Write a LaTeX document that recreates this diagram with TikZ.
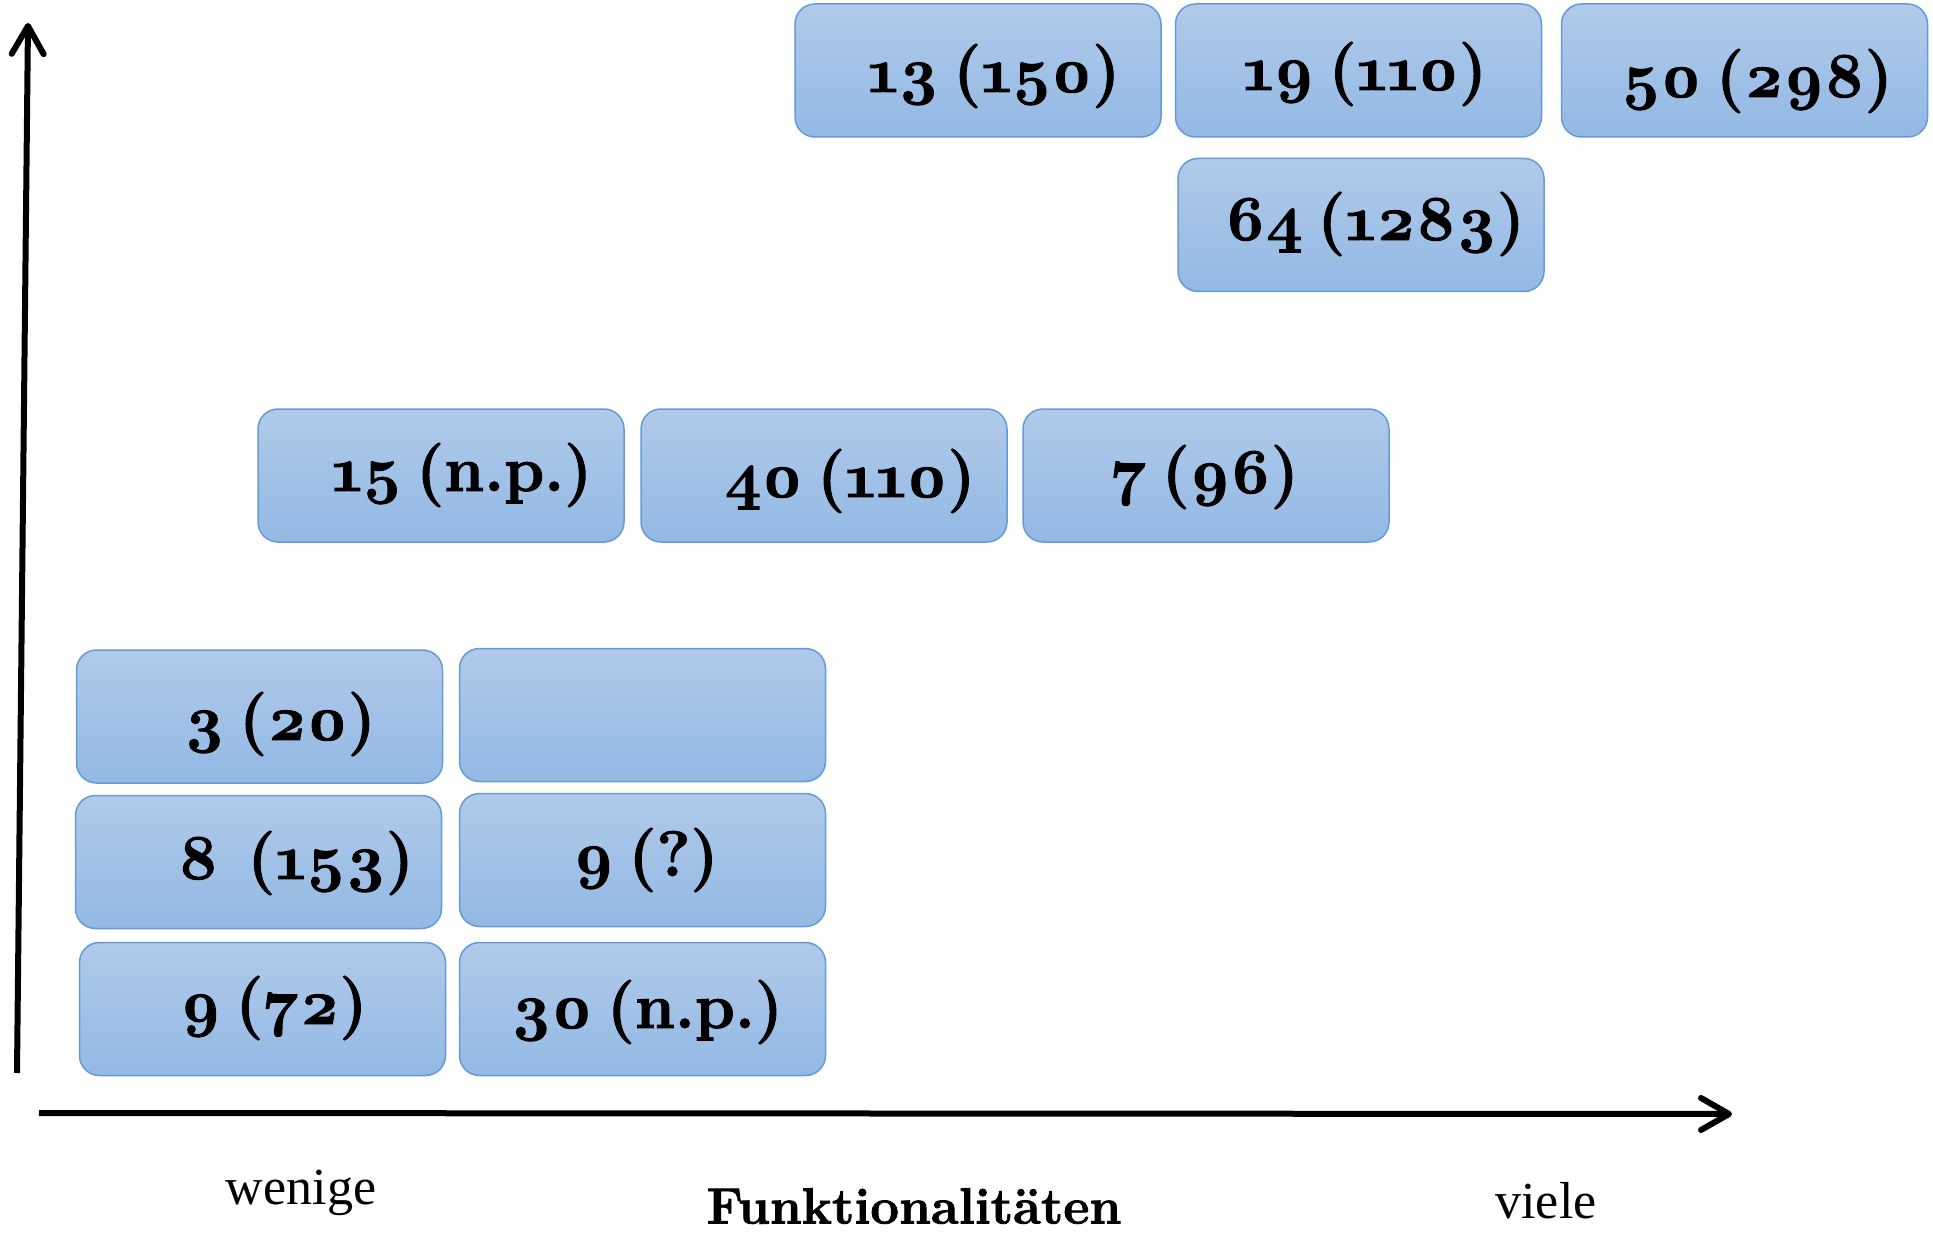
\documentclass[tikz,border=0pt]{standalone}
\usepackage{fontspec}
\setmainfont{Latin Modern Roman}[Numbers=OldStyle, BoldFeatures={FakeBold=1.6}, WordSpace=0.6]
\newfontfamily\labfont{Liberation Serif}
\usetikzlibrary{arrows.meta}
\definecolor{boxtop}{RGB}{176,202,234}
\definecolor{boxbot}{RGB}{147,185,228}
\definecolor{boxborder}{RGB}{100,155,215}
\begin{document}
\begin{tikzpicture}[x=1pt,y=-1pt,
  box/.style={draw=boxborder, line width=1.5pt, rounded corners=20pt, top color=boxtop, bottom color=boxbot, minimum width=366pt, minimum height=133pt, inner sep=0pt},
  lbl/.style={font=\fontsize{64}{67}\selectfont\bfseries, inner sep=0pt},
  axlbl/.style={font=\labfont\fontsize{52}{56}\selectfont, inner sep=0pt},
  axis/.style={line width=6pt, -{Straight Barb[length=28pt,width=32pt,line cap=round,line join=round]}}]
\useasboundingbox (0,0) rectangle (1933,1233);
% boxes
\node[box] (b1) at (978,70.5) {};
\node[box] (b2) at (1358.5,70.5) {};
\node[box] (b3) at (1744.5,70.5) {};
\node[box] (b4) at (1361,225) {};
\node[box] (m1) at (441,475.5) {};
\node[box] (m2) at (824,475.5) {};
\node[box] (m3) at (1206,475.5) {};
\node[box] (r1) at (259.5,716.5) {};
\node[box] (r2) at (642.5,715) {};
\node[box] (r3) at (258.5,862) {};
\node[box] (r4) at (642.5,860) {};
\node[box] (r5) at (262.5,1009) {};
\node[box] (r6) at (642.5,1009) {};
% texts
\node[lbl] (t1) at (994,76) {13 (150)};
\node[lbl] (t2) at (1365,74) {19 (110)};
\node[lbl] (t3) at (1757,81) {50 (298)};
\node[lbl] (t4) at (1375,224) {64 (1283)};
\node[lbl] (t5) at (462,475) {15 (n.p.)};
\node[lbl] (t6) at (850,481) {40 (110)};
\node[lbl] (t7) at (1205,477) {7 (96)};
\node[lbl] (t8) at (280,724) {3 (20)};
\node[lbl] (t9) at (296,863) {8\ \ (153)};
\node[lbl] (t10) at (646,860) {9 (?)};
\node[lbl] (t11) at (274,1008) {9 (72)};
\node[lbl] (t12) at (647,1012) {30 (n.p.)};
% axes
\coordinate (yo) at (17,1073);
\coordinate (yt) at (28,23);
\coordinate (xo) at (39,1113);
\coordinate (xt) at (1732,1114);
\draw[axis] (yo) -- (yt);
\draw[axis] (xo) -- (xt);
% axis labels
\node[axlbl] (wen) at (301,1193) {wenige};
\node[axlbl] (vie) at (1546,1201) {viele};
\node[lbl, font=\fontsize{51}{54}\selectfont\bfseries] (fun) at (914,1206) {Funktionalitäten};
\end{tikzpicture}
\end{document}
